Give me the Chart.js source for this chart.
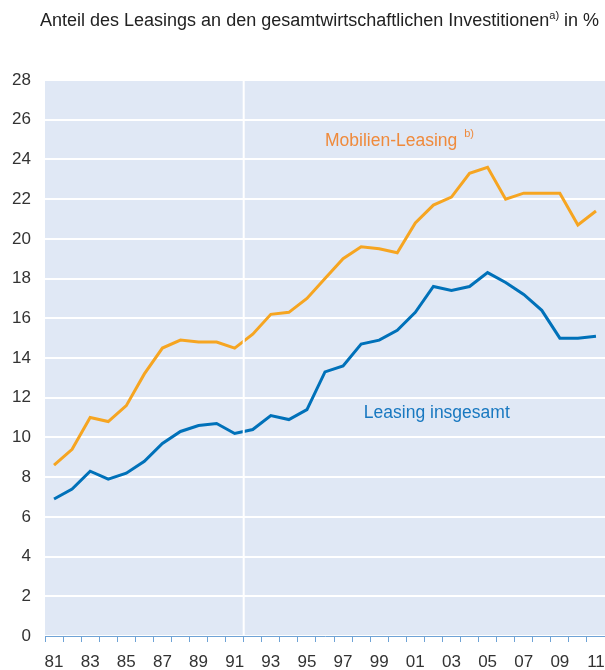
<!DOCTYPE html>
<html>
<head>
<meta charset="utf-8">
<script src="https://cdn.jsdelivr.net/npm/chart.js@4"></script>
<style>
  body { margin: 0; background: #fff; }
  #wrap { position: relative; width: 605px; height: 670px; }
  #title {
    position: absolute; left: 40px; top: 9px;
    font-family: "Liberation Sans", Arial, sans-serif; font-size: 18px; color: #222;
    white-space: nowrap;
  }
  #title sup { font-size: 11px; vertical-align: 7px; }
</style>
</head>
<body>
<div id="wrap">
  <canvas id="chart" width="605" height="670"></canvas>
  <div id="title">Anteil des Leasings an den gesamtwirtschaftlichen Investitionen<sup>a)</sup> in %</div>
</div>
<script>
const years = ["81", "82", "83", "84", "85", "86", "87", "88", "89", "90", "91",
  "92", "93", "94", "95", "96", "97", "98", "99", "00", "01",
  "02", "03", "04", "05", "06", "07", "08", "09", "10", "11"];

const mobilienLeasing = [8.6, 9.4, 11.0, 10.8, 11.6, 13.2, 14.5, 14.9, 14.8, 14.8, 14.5,
  15.2, 16.2, 16.3, 17.0, 18.0, 19.0, 19.6, 19.5, 19.3, 20.8,
  21.7, 22.1, 23.3, 23.6, 22.0, 22.3, 22.3, 22.3, 20.7, 21.4];

const leasingInsgesamt = [6.9, 7.4, 8.3, 7.9, 8.2, 8.8, 9.7, 10.3, 10.6, 10.7, 10.2,
  10.4, 11.1, 10.9, 11.4, 13.3, 13.6, 14.7, 14.9, 15.4, 16.3,
  17.6, 17.4, 17.6, 18.3, 17.8, 17.2, 16.4, 15.0, 15.0, 15.1];

const yTicks = [0, 2, 4, 6, 8, 10, 12, 14, 16, 18, 20, 22, 24, 26, 28];

const ORANGE = "#f6a521";
const BLUE = "#0071b9";
const FONT = "'Liberation Sans', Arial, sans-serif";

// break between 1991 and 1992 (West Germany -> Germany)
const breakAfter = years.indexOf("91");

const backgroundPlugin = {
  id: "plotBackground",
  beforeDraw(chart) {
    const { ctx, chartArea } = chart;
    ctx.save();
    ctx.fillStyle = "#e0e8f5";
    ctx.fillRect(chartArea.left, chartArea.top, chartArea.right - chartArea.left, chartArea.bottom - chartArea.top);
    ctx.restore();
  },
};

const overlayPlugin = {
  id: "overlay",
  afterDatasetsDraw(chart) {
    const { ctx, chartArea, scales } = chart;
    const x = (scales.x.getPixelForValue(breakAfter) + scales.x.getPixelForValue(breakAfter + 1)) / 2;
    ctx.save();
    ctx.strokeStyle = "#ffffff";
    ctx.lineWidth = 2;
    ctx.beginPath();
    ctx.moveTo(x, chartArea.top);
    ctx.lineTo(x, chartArea.bottom);
    ctx.stroke();

    ctx.textBaseline = "middle";
    ctx.textAlign = "left";
    // series labels
    let lx = scales.x.getPixelForValue(15);
    let ly = scales.y.getPixelForValue(24.9);
    ctx.fillStyle = "#ef8a3c";
    ctx.font = "17.5px " + FONT;
    ctx.fillText("Mobilien-Leasing", lx, ly);
    const w = ctx.measureText("Mobilien-Leasing ").width;
    ctx.font = "11px " + FONT;
    ctx.fillText("b)", lx + w + 2, ly - 8);

    lx = scales.x.getPixelForValue(17.15);
    ly = scales.y.getPixelForValue(11.2);
    ctx.fillStyle = "#1878c0";
    ctx.font = "17.5px " + FONT;
    ctx.fillText("Leasing insgesamt", lx, ly);
    ctx.restore();
  },
};

new Chart(document.getElementById("chart"), {
  type: "line",
  data: {
    labels: years,
    datasets: [
      {
        label: "Mobilien-Leasing",
        data: mobilienLeasing,
        borderColor: ORANGE,
        borderWidth: 3,
        pointRadius: 0,
        tension: 0,
      },
      {
        label: "Leasing insgesamt",
        data: leasingInsgesamt,
        borderColor: BLUE,
        borderWidth: 3,
        pointRadius: 0,
        tension: 0,
      },
    ],
  },
  options: {
    responsive: false,
    animation: false,
    layout: { padding: { top: 80, left: 0, right: 0, bottom: 0 } },
    plugins: {
      legend: { display: false },
      tooltip: { enabled: false },
    },
    scales: {
      x: {
        offset: true,
        grid: {
          offset: true,
          drawOnChartArea: false,
          drawTicks: true,
          tickLength: 6,
          color: "#6fa3d6",
        },
        border: { display: true, color: "#6fa3d6", width: 1 },
        ticks: {
          autoSkip: false,
          maxRotation: 0,
          padding: 10,
          color: "#333",
          font: { family: FONT, size: 17 },
          callback: (val, i) => (i % 2 === 0 ? years[i] : ""),
        },
        afterFit: (scale) => {
          scale.height = 34;
          scale.paddingLeft = 0;
          scale.paddingRight = 0;
        },
      },
      y: {
        min: 0,
        max: 28,
        afterBuildTicks: (scale) => { scale.ticks = yTicks.map((v) => ({ value: v })); },
        grid: { color: "#ffffff", lineWidth: 2, drawTicks: false },
        border: { display: false },
        ticks: {
          padding: 14,
          color: "#333",
          font: { family: FONT, size: 17 },
        },
        afterFit: (scale) => { scale.width = 45; },
      },
    },
  },
  plugins: [backgroundPlugin, overlayPlugin],
});
</script>
</body>
</html>
